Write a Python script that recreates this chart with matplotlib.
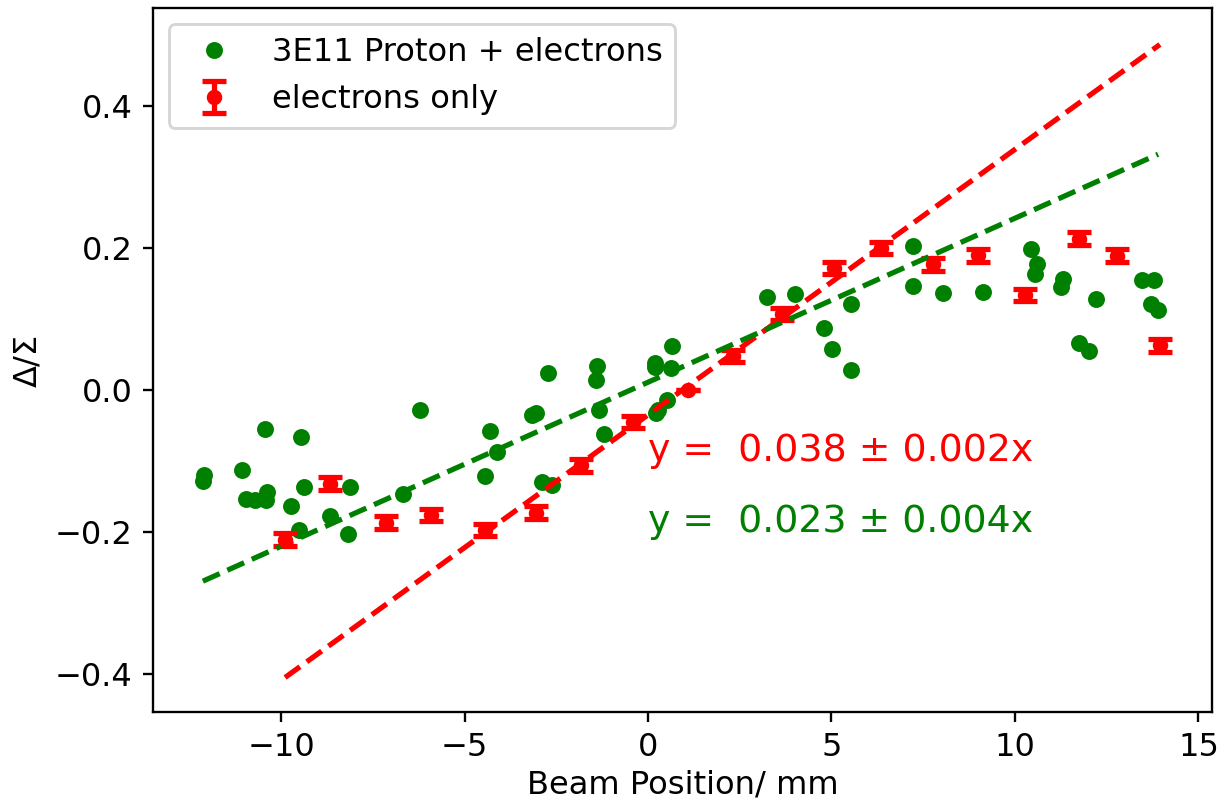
import numpy as np
import matplotlib
matplotlib.use("Agg")
import matplotlib.pyplot as plt

# protons + electrons (green dots)
x_pe = [-12.10, -12.13, -11.07, -10.44, -9.46, -10.95, -10.71, -10.42, -10.37,
        -9.72, -9.37, -9.50, -8.66, -8.11, -8.17, -6.67, -6.21, -4.31, -4.11,
        -4.43, -3.15, -3.06, -2.73, -1.38, -1.42, -1.34, -1.20, 0.19, 0.19,
        0.66, 0.62, 0.51, 0.28, 0.22, -2.90, -2.62, 3.25, 4.01, 4.80, 5.01,
        5.53, 5.53, 7.21, 7.23, 8.03, 9.12, 10.43, 10.59, 10.54, 11.30, 11.26,
        12.21, 11.75, 12.02, 13.46, 13.79, 13.71, 13.90]
y_pe = [-0.120, -0.128, -0.112, -0.055, -0.066, -0.154, -0.155, -0.155, -0.143,
        -0.163, -0.137, -0.197, -0.177, -0.137, -0.203, -0.147, -0.028, -0.057, -0.087,
        -0.121, -0.035, -0.033, 0.024, 0.034, 0.014, -0.028, -0.062, 0.038, 0.033,
        0.062, 0.031, -0.014, -0.028, -0.033, -0.129, -0.134, 0.131, 0.135, 0.088, 0.058,
        0.028, 0.121, 0.203, 0.147, 0.137, 0.138, 0.198, 0.178, 0.164, 0.156, 0.145,
        0.128, 0.066, 0.055, 0.155, 0.155, 0.121, 0.113]

# electrons only (red, with error bars)
x_e = [-9.89, -8.66, -7.14, -5.91, -4.44, -3.05, -1.83, -0.41, 1.09, 2.32,
       3.65, 5.07, 6.35, 7.77, 8.99, 10.27, 11.74, 12.78, 13.95]
y_e = [-0.211, -0.132, -0.187, -0.176, -0.197, -0.173, -0.106, -0.045, 0.0, 0.048,
       0.107, 0.172, 0.200, 0.177, 0.190, 0.134, 0.213, 0.189, 0.063]
err_e = [0.009] * 8 + [0.0] + [0.009] * 10

# linear fits (slope, intercept)
fit_e = (0.0374, -0.035)
fit_pe = (0.0231, 0.011)

plt.rcParams["font.size"] = 11

fig = plt.figure(figsize=(1217 / 210, 809 / 210), dpi=210)
ax = fig.add_axes([0.1257, 0.1199, 0.8702, 0.8701])

ax.plot(x_pe, y_pe, "o", color="green", markersize=4.8, label="3E11 Proton + electrons")
ax.errorbar(x_e, y_e, yerr=err_e, fmt="o", color="red", markersize=4.3,
            capsize=4, capthick=1.8, elinewidth=1.8, label="electrons only")

xr = np.array([min(x_e), max(x_e)])
ax.plot(xr, fit_e[0] * xr + fit_e[1], color="red", lw=1.8, dashes=(3.5, 1.6))
xg = np.array([min(x_pe), max(x_pe)])
ax.plot(xg, fit_pe[0] * xg + fit_pe[1], color="green", lw=1.8, dashes=(3.5, 1.6))

ax.text(0, -0.1, "y =  0.038 ± 0.002x", color="red", fontsize=13)
ax.text(0, -0.2, "y =  0.023 ± 0.004x", color="green", fontsize=13)

ax.set_xlim(-13.49, 15.37)
ax.set_ylim(-0.4535, 0.538)
ax.set_xlabel("Beam Position/ mm", labelpad=2)
ax.set_ylabel("Δ/Σ")
ax.legend(loc="upper left")

fig.savefig("out.png", dpi=210)
